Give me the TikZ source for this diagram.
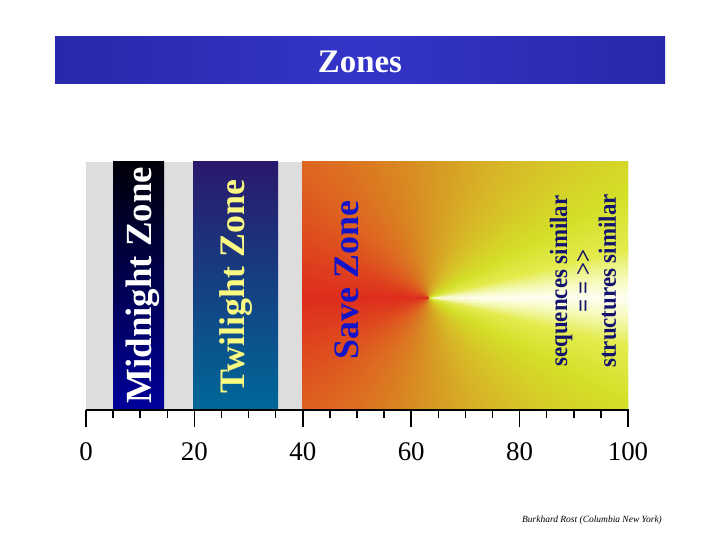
\documentclass[tikz,border=0pt]{standalone}
\usepackage{fontspec}
\setmainfont{Liberation Serif}
\definecolor{titleedge}{RGB}{40,40,170}
\definecolor{titlemid}{RGB}{52,52,200}
\definecolor{graybg}{RGB}{221,221,221}
\definecolor{midtop}{RGB}{0,0,8}
\definecolor{midbot}{RGB}{0,0,155}
\definecolor{twitop}{RGB}{42,24,110}
\definecolor{twibot}{RGB}{0,104,152}
\definecolor{twitxt}{RGB}{250,250,130}
\definecolor{savetxt}{RGB}{20,20,200}
\definecolor{simtxt}{RGB}{20,20,110}
\definecolor{s0}{RGB}{255,255,245}
\definecolor{s1}{RGB}{246,250,185}
\definecolor{s2}{RGB}{228,236,80}
\definecolor{s3}{RGB}{212,224,40}
\definecolor{s4}{RGB}{215,195,40}
\definecolor{s5}{RGB}{215,150,35}
\definecolor{s6}{RGB}{222,100,32}
\definecolor{s7}{RGB}{222,68,30}
\definecolor{s8}{RGB}{222,45,28}
\begin{document}
\begin{tikzpicture}[x=1bp,y=-1bp,
  zonelabel/.style={font=\bfseries\fontsize{36}{40}\selectfont, rotate=90, inner sep=0pt},
  ticklab/.style={font=\fontsize{27}{30}\selectfont, inner sep=0pt},
  axisline/.style={line width=1.5bp, black}]
\useasboundingbox (0,0) rectangle (720,540);
\fill[white] (0,0) rectangle (720,540);
% title bar
\shade[left color=titleedge, right color=titleedge, middle color=titlemid] (55,37) rectangle (665,84);
\node[font=\bfseries\fontsize{33}{36}\selectfont, text=white, inner sep=0pt] (title) at (360,62) {Zones};
% background
\fill[graybg] (86,162) rectangle (628,409);
\shade[top color=midtop, bottom color=midbot] (113,162) rectangle (164,409);
\shade[top color=twitop, bottom color=twibot] (193,162) rectangle (278,409);
% save zone conical gradient
\begin{scope}
\clip (302,162) rectangle (628,409);
\fill[s5] (302,162) rectangle (628,409);
\foreach \a/\b/\ca/\cb/\st in {0/6/s0/s1/0.5, 6/14/s1/s2/0.5, 14/28/s2/s3/1, 28/50/s3/s4/1, 50/90/s4/s5/1, 90/135/s5/s6/1, 135/160/s6/s7/1, 160/180/s7/s8/1}{
  \pgfmathsetmacro{\nx}{\a+\st}
  \foreach \t in {\a,\nx,...,\b}{
    \pgfmathsetmacro{\p}{100*(\t-\a)/(\b-\a)}
    \pgfmathsetmacro{\lo}{\t-1.0*\st}
    \pgfmathsetmacro{\hi}{\t+1.0*\st}
    \pgfmathsetmacro{\nlo}{-\lo}
    \pgfmathsetmacro{\nhi}{-\hi}
    \fill[\cb!\p!\ca] (428,298) -- +(\lo:450) -- +(\hi:450) -- cycle;
    \fill[\cb!\p!\ca] (428,298) -- +(\nlo:450) -- +(\nhi:450) -- cycle;
  }
}
\end{scope}
% zone labels
\node[zonelabel, font=\bfseries\fontsize{37}{40}\selectfont, text=white] (midnight) at (142.5,285) {Midnight Zone};
\node[zonelabel, text=twitxt] (twilight) at (236,286.5) {Twilight Zone};
\node[zonelabel, text=savetxt] (save) at (346.5,280) {Save Zone};
\node[rotate=90, xscale=0.92, align=center, inner sep=0pt, text=simtxt,
  font=\bfseries\fontsize{25}{24.5}\selectfont] (similar) at (583,281)
  {sequences similar\\= = {>}{>}\\structures similar};
% axis
\coordinate (axL) at (85.5,410);
\coordinate (axR) at (628.5,410);
\draw[axisline] (axL) -- (axR);
\foreach \v in {0,5,...,100}{
  \pgfmathsetmacro{\xx}{86+5.42*\v}
  \pgfmathtruncatemacro{\m}{mod(\v,20)}
  \ifnum\m=0
    \draw[axisline] (\xx,409.5) -- (\xx,427);
    \node[ticklab] (lab\v) at (\xx,452) {\v};
  \else
    \draw[axisline] (\xx,409.5) -- (\xx,418);
  \fi
}
% credit
\node[font=\itshape\fontsize{9.5}{10}\selectfont, inner sep=0pt] (credit) at (592,520) {Burkhard Rost (Columbia New York)};
\end{tikzpicture}
\end{document}
